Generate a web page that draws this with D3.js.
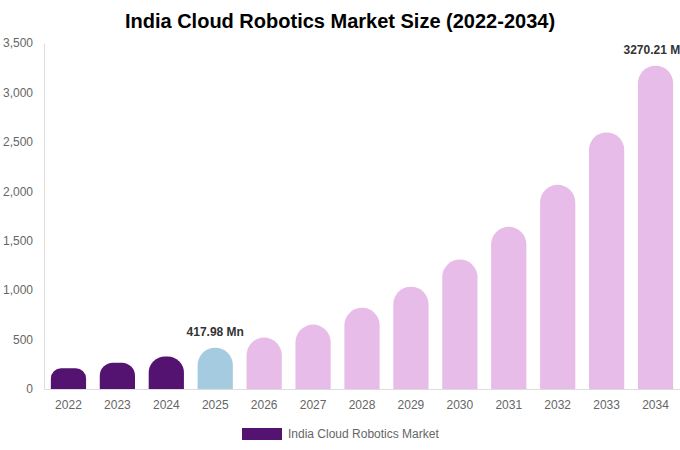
<!DOCTYPE html>
<html>
<head>
<meta charset="utf-8">
<script src="https://cdn.jsdelivr.net/npm/d3@7"></script>
<style>
  body { margin: 0; background: #fff; }
  svg { font-family: "Liberation Sans", Arial, sans-serif; }
</style>
</head>
<body>
<svg id="chart" width="680" height="450"></svg>
<script>
const years = ["2022", "2023", "2024", "2025", "2026", "2027", "2028", "2029", "2030", "2031", "2032", "2033", "2034"];
const marketSize = [209, 266, 330, 417.98, 520, 652, 822, 1035, 1310, 1640, 2065, 2595, 3270.21];
const barColors = ["#541271", "#541271", "#541271", "#a4cbdf", "#e8bce9", "#e8bce9", "#e8bce9", "#e8bce9", "#e8bce9", "#e8bce9", "#e8bce9", "#e8bce9", "#e8bce9"];
const yTicks = [0, 500, 1000, 1500, 2000, 2500, 3000, 3500];
const labelled = { "2025": "417.98 Mn", "2034": "3270.21 Mn" };

const svg = d3.select("#chart");
const margin = { left: 44, right: 680, top: 43, bottom: 389 };

const x = d3.scaleBand()
    .domain(years)
    .range([margin.left, margin.right])
    .paddingInner(0.28)
    .paddingOuter(0.14);
const y = d3.scaleLinear()
    .domain([0, 3500])
    .range([margin.bottom, margin.top]);

// title
svg.append("text")
    .attr("x", 340).attr("y", 28)
    .attr("text-anchor", "middle")
    .style("font-size", "20px").style("font-weight", "bold").style("fill", "#000")
    .text("India Cloud Robotics Market Size (2022-2034)");

// y axis
const yAxis = svg.append("g")
    .attr("transform", "translate(" + margin.left + ",0)")
    .call(d3.axisLeft(y).tickValues(yTicks).tickFormat(d3.format(",")).tickSize(0).tickPadding(11));
yAxis.select(".domain").attr("stroke", "#ddd");
yAxis.selectAll("text").style("font-size", "12px").style("fill", "#666").style("font-family", "inherit");

// x axis
const xAxis = svg.append("g")
    .attr("transform", "translate(0," + margin.bottom + ")")
    .call(d3.axisBottom(x).tickSize(0).tickPadding(11));
xAxis.select(".domain").attr("stroke", "#ddd");
xAxis.selectAll("text").style("font-size", "12px").style("fill", "#666").style("font-family", "inherit");

// rounded-top bar path
function barPath(d, i) {
    const x0 = x(years[i]), w = x.bandwidth();
    const y0 = y(d), h = margin.bottom - y0;
    const r = Math.min(w / 2, h / 2);
    return "M" + x0 + "," + margin.bottom +
        "V" + (y0 + r) +
        "A" + r + "," + r + " 0 0 1 " + (x0 + r) + "," + y0 +
        "H" + (x0 + w - r) +
        "A" + r + "," + r + " 0 0 1 " + (x0 + w) + "," + (y0 + r) +
        "V" + margin.bottom + "Z";
}

svg.append("g").selectAll("path")
    .data(marketSize)
    .enter().append("path")
    .attr("d", barPath)
    .attr("fill", (d, i) => barColors[i]);

// data labels
svg.append("g").selectAll("text")
    .data(years.filter(yr => labelled[yr]))
    .enter().append("text")
    .attr("x", yr => x(yr) + x.bandwidth() / 2)
    .attr("y", yr => y(marketSize[years.indexOf(yr)]) - 12)
    .attr("text-anchor", "middle")
    .style("font-size", "12px").style("font-weight", "bold").style("fill", "#333")
    .text(yr => labelled[yr]);

// legend
svg.append("rect")
    .attr("x", 242).attr("y", 428).attr("width", 40).attr("height", 12)
    .attr("fill", "#541271");
svg.append("text")
    .attr("x", 288).attr("y", 437.5)
    .style("font-size", "12px").style("fill", "#666")
    .text("India Cloud Robotics Market");
</script>
</body>
</html>
